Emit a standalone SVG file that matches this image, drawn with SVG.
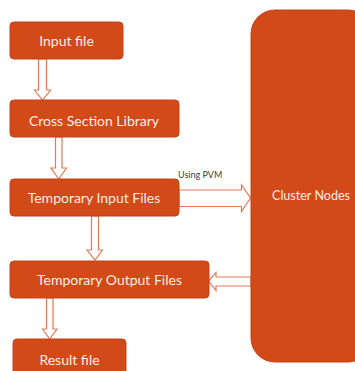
<svg xmlns="http://www.w3.org/2000/svg" width="355" height="371" viewBox="0 0 355 371">
  <style>
    .box { fill: #D24A18; stroke: #C2421A; stroke-width: 1; }
    .label { font-family: Lato, "Open Sans", "Liberation Sans", sans-serif; font-size: 14px; fill: #FBEDE6; text-anchor: middle; }
    .arrow { fill: #FFFFFF; stroke: #E27A58; stroke-width: 1.2; stroke-linejoin: miter; }
    .note { font-family: Lato, "Open Sans", "Liberation Sans", sans-serif; font-size: 9px; fill: #404040; }
  </style>
  <rect width="355" height="371" fill="#FFFFFF"/>

  <g id="connectors">
    <!-- Input file to Cross Section Library -->
    <path class="arrow" d="M38.5,59 L46.5,59 L46.5,90 L50.5,90 L42.5,100 L34.5,90 L38.5,90 Z"/>
    <!-- Cross Section Library to Temporary Input Files -->
    <path class="arrow" d="M55.5,137 L62,137 L62,168 L66.5,168 L58.7,179 L51,168 L55.5,168 Z"/>
    <!-- Temporary Input Files to Temporary Output Files -->
    <path class="arrow" d="M91.5,216 L98.5,216 L98.5,250 L102.5,250 L95,260 L87,250 L91.5,250 Z"/>
    <!-- Temporary Output Files to Result file -->
    <path class="arrow" d="M46.5,298 L53,298 L53,329 L57,329 L49.7,339 L42.5,329 L46.5,329 Z"/>
    <!-- Temporary Input Files to Cluster Nodes -->
    <path class="arrow" d="M179,190 L241.5,190 L241.5,185 L250.5,198 L241.5,211.5 L241.5,206.5 L179,206.5 Z"/>
    <text class="note" x="178" y="178">Using PVM</text>
    <!-- Cluster Nodes back to Temporary Output Files -->
    <path class="arrow" d="M251,277 L216,277 L216,272.5 L208.5,281 L216,290.5 L216,286 L251,286 Z"/>
  </g>

  <g id="input-file">
    <rect class="box" x="10" y="22" width="113" height="37" rx="4"/>
    <text class="label" x="66.5" y="46">Input file</text>
  </g>

  <g id="cross-section-library">
    <rect class="box" x="10" y="100" width="169" height="37" rx="4"/>
    <text class="label" x="94" y="125.5">Cross Section Library</text>
  </g>

  <g id="temporary-input-files">
    <rect class="box" x="10" y="179" width="169" height="37" rx="4"/>
    <text class="label" x="94" y="203">Temporary Input Files</text>
  </g>

  <g id="temporary-output-files">
    <rect class="box" x="10" y="261" width="199" height="37" rx="4"/>
    <text class="label" x="109.5" y="284.5">Temporary Output Files</text>
  </g>

  <g id="result-file">
    <rect class="box" x="13" y="339" width="113" height="40" rx="4"/>
    <text class="label" x="69.5" y="364.5">Result file</text>
  </g>

  <g id="cluster-nodes">
    <rect class="box" x="251" y="10" width="121" height="352" rx="24"/>
    <text class="label" x="311" y="199.5" textLength="78" lengthAdjust="spacingAndGlyphs">Cluster Nodes</text>
  </g>
</svg>
